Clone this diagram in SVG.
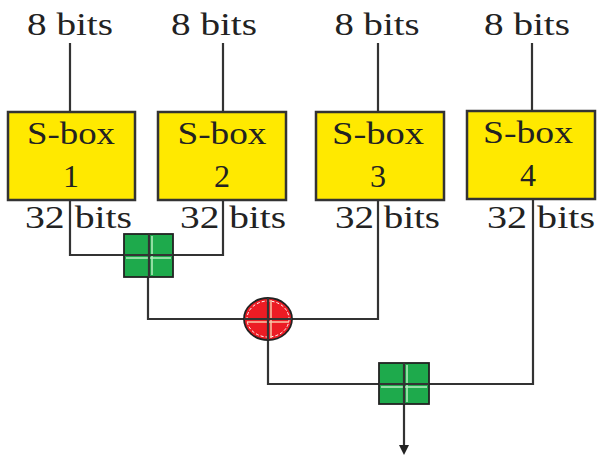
<svg xmlns="http://www.w3.org/2000/svg" width="597" height="463" viewBox="0 0 597 463">
<style>
text{font-family:"Liberation Serif","Times New Roman",serif;font-size:32px;fill:#222;}
.box{fill:#FFE900;stroke:#333;stroke-width:2.5;}
.wire{fill:none;stroke:#333;stroke-width:2.2;}
.add{fill:#1EAA4C;stroke:#222;stroke-width:1.8;}
.xor{fill:#EC1C24;stroke:#222;stroke-width:1.8;}
.hl{stroke:#B8F0C0;stroke-width:1.5;fill:none;}
.hlr{stroke:#F7C8A8;stroke-width:1.5;fill:none;}
</style>
<defs>
<marker id="arr" markerWidth="10" markerHeight="10" refX="5" refY="5" orient="auto" markerUnits="userSpaceOnUse">
<path d="M0,0 L10,5 L0,10 z" fill="#222"/>
</marker>
</defs>
<g id="labels-in">
<text x="70" y="35" text-anchor="middle" textLength="86" lengthAdjust="spacingAndGlyphs">8 bits</text>
<text x="214" y="35" text-anchor="middle" textLength="86" lengthAdjust="spacingAndGlyphs">8 bits</text>
<text x="377" y="35" text-anchor="middle" textLength="85" lengthAdjust="spacingAndGlyphs">8 bits</text>
<text x="527" y="35" text-anchor="middle" textLength="86" lengthAdjust="spacingAndGlyphs">8 bits</text>
</g>
<g id="connectors">
<path class="wire" d="M70,43 V112 M223,43 V112 M378,43 V112 M532,43 V111"/>
<path class="wire" d="M70,200 V255 H223 V200"/>
<path class="wire" d="M148,255 V319 H378 V200"/>
<path class="wire" d="M268,319 V384 H533 V199"/>
<path class="wire" d="M404,384 V450" marker-end="url(#arr)"/>
</g>
<g id="sbox1">
<rect class="box" x="8" y="112" width="127" height="88"/>
<text x="71" y="144" text-anchor="middle" textLength="88" lengthAdjust="spacingAndGlyphs">S-box</text>
<text x="71" y="187" text-anchor="middle">1</text>
</g>
<g id="sbox2">
<rect class="box" x="158" y="112" width="128" height="88"/>
<text x="222" y="144" text-anchor="middle" textLength="89" lengthAdjust="spacingAndGlyphs">S-box</text>
<text x="222" y="187" text-anchor="middle">2</text>
</g>
<g id="sbox3">
<rect class="box" x="316" y="112" width="128" height="88"/>
<text x="378" y="144" text-anchor="middle" textLength="92" lengthAdjust="spacingAndGlyphs">S-box</text>
<text x="378" y="187" text-anchor="middle">3</text>
</g>
<g id="sbox4">
<rect class="box" x="467" y="111" width="128" height="88"/>
<text x="528" y="143" text-anchor="middle" textLength="90" lengthAdjust="spacingAndGlyphs">S-box</text>
<text x="528" y="186" text-anchor="middle">4</text>
</g>
<g id="labels-out">
<text x="25" y="228" textLength="107" lengthAdjust="spacingAndGlyphs">32 bits</text>
<text x="180" y="228" textLength="106" lengthAdjust="spacingAndGlyphs">32 bits</text>
<text x="335" y="228" textLength="105" lengthAdjust="spacingAndGlyphs">32 bits</text>
<text x="487" y="228" textLength="108" lengthAdjust="spacingAndGlyphs">32 bits</text>
</g>
<g id="add1">
<rect class="add" x="124" y="234" width="49" height="43"/>
<path class="hl" d="M152,236 V275 M126,258 H171"/>
<path class="wire" d="M124,255 H173 M149,234 V277"/>
</g>
<g id="xor">
<ellipse class="xor" cx="268" cy="319" rx="24" ry="21"/>
<ellipse cx="268" cy="319" rx="21" ry="18" fill="none" stroke="#fff" stroke-width="1" stroke-dasharray="3,2"/>
<path class="hlr" d="M271,300 V338 M247,322 H289"/>
<path class="wire" d="M244,319 H292 M268,298 V340"/>
</g>
<g id="add2">
<rect class="add" x="379" y="363" width="50" height="41"/>
<path class="hl" d="M407,365 V402 M381,387 H427"/>
<path class="wire" d="M379,384 H429 M404,363 V404"/>
</g>
</svg>
